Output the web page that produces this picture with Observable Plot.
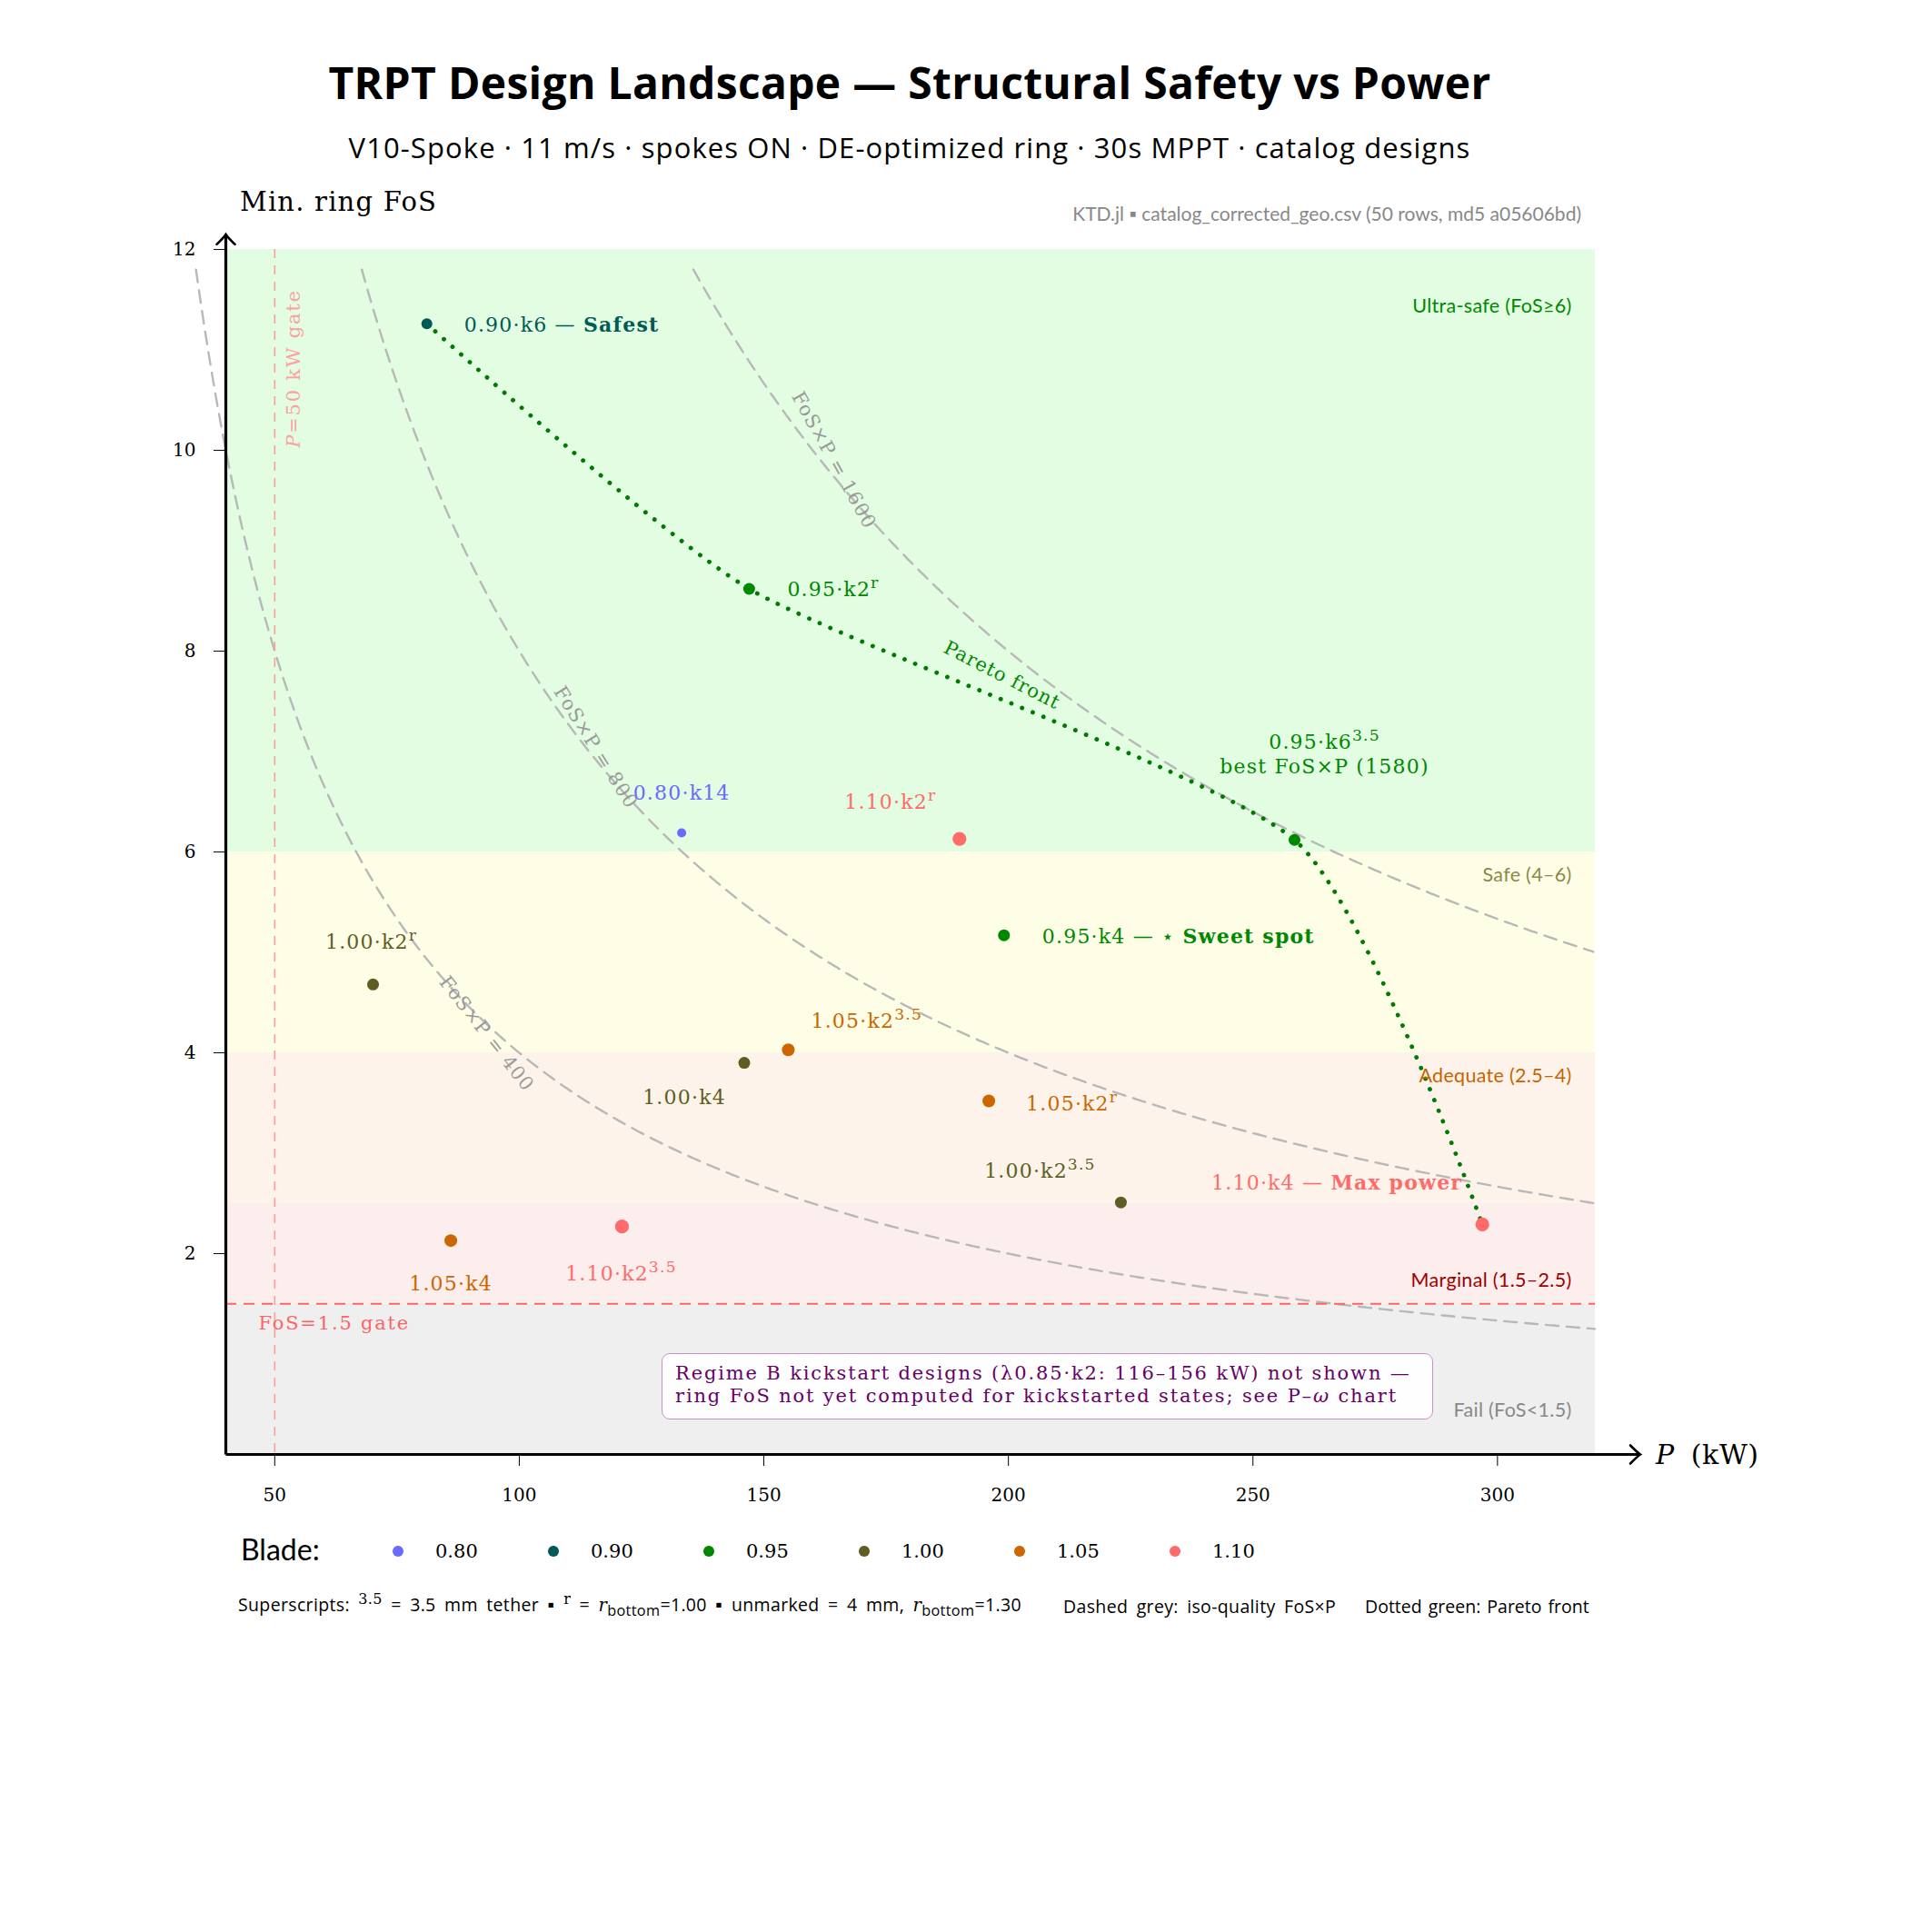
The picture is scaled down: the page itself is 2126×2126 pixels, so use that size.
<!DOCTYPE html>
<html><head><meta charset="utf-8">
<script src="https://cdn.jsdelivr.net/npm/d3@7"></script>
<script src="https://cdn.jsdelivr.net/npm/@observablehq/plot@0.6"></script>
<style>
html,body{margin:0;padding:0;background:#fff;}
#wrap{position:relative;width:2126px;height:2126px;overflow:hidden;background:#fff;}
#wrap svg{position:absolute;left:0;top:0;}
.t{position:absolute;white-space:nowrap;line-height:1;}
.sans{font-family:"Open Sans",Lato,sans-serif;}
.serif{font-family:"DejaVu Serif",serif;}
</style></head><body><div id="wrap"></div>
<script>
// ---------------- data ----------------
const blades = [0.80, 0.90, 0.95, 1.00, 1.05, 1.10];
const bladeLabels = ["0.80", "0.90", "0.95", "1.00", "1.05", "1.10"];
const bladeColors = ["#6a6aff", "#005a55", "#008800", "#5e5e24", "#cc6600", "#ff6b6b"];
const bladeRadius = [5, 6, 6.5, 6.5, 7, 7.6];

const designIds = ["0.90-k6", "0.95-k2r", "0.95-k6-3.5", "1.10-k4", "0.80-k14", "1.10-k2r", "0.95-k4", "1.00-k2r", "1.00-k4", "1.05-k2-3.5", "1.05-k2r", "1.00-k2-3.5", "1.05-k4", "1.10-k2-3.5"];
const designLabels = ["0.90·k6 — **Safest**", "0.95·k2^{r}", "0.95·k6^{3.5}\nbest FoS×P (1580)", "1.10·k4 — **Max power**", "0.80·k14", "1.10·k2^{r}", "0.95·k4 — ⋆ **Sweet spot**", "1.00·k2^{r}", "1.00·k4", "1.05·k2^{3.5}", "1.05·k2^{r}", "1.00·k2^{3.5}", "1.05·k4", "1.10·k2^{3.5}"];
const designBlade = [0.90, 0.95, 0.95, 1.10, 0.80, 1.10, 0.95, 1.00, 1.00, 1.05, 1.05, 1.00, 1.05, 1.10];
const designPower = [81.1, 147.0, 258.5, 296.9, 133.2, 190.0, 199.1, 70.1, 146.0, 155.0, 196.0, 223.0, 86.0, 121.0];
const designFoS = [11.26, 8.62, 6.12, 2.29, 6.19, 6.13, 5.17, 4.68, 3.90, 4.03, 3.52, 2.51, 2.13, 2.27];
const paretoIds = ["0.90-k6", "0.95-k2r", "0.95-k6-3.5", "1.10-k4"];

const bandNames = ["Ultra-safe (FoS≥6)", "Safe (4–6)", "Adequate (2.5–4)", "Marginal (1.5–2.5)", "Fail (FoS<1.5)"];
const bandLow = [6, 4, 2.5, 1.5, 0];
const bandHigh = [12, 6, 4, 2.5, 1.5];

const isoLevels = [400, 800, 1600];
const xTicks = [50, 100, 150, 200, 250, 300];
const yTicks = [2, 4, 6, 8, 10, 12];
const powerGate = 50;
const fosGate = 1.5;

// ---------------- styles / layout ----------------
const bandFill = ["#e2fde2", "#fefee6", "#fdf3ea", "#fdeeee", "#efefef"];
const bandInk = ["#008800", "#8a8a4a", "#c86400", "#a00000", "#888888"];
const bandLabelFoS = [11.43, 5.77, 3.77, 1.735, 0.44];
const isoLabelAt = [{P: 93.3, F: 4.19, rot: 52}, {P: 115.6, F: 7.04, rot: 58}, {P: 164.3, F: 9.9, rot: 61}];
const paretoLabelAt = {P: 198.7, F: 7.76, rot: 27};
const labelPlace = {
  "0.90-k6": {a: "start", dx: 41, dy: 0},
  "0.95-k2r": {a: "start", dx: 42, dy: 0},
  "0.95-k6-3.5": {a: "middle", dx: 33, dy: -95},
  "1.10-k4": {a: "end", dx: -22, dy: -47},
  "0.80-k14": {a: "middle", dx: 0, dy: -45},
  "1.10-k2r": {a: "middle", dx: -76, dy: -42},
  "0.95-k4": {a: "start", dx: 42, dy: 0},
  "1.00-k2r": {a: "middle", dx: -2, dy: -48},
  "1.00-k4": {a: "middle", dx: -66, dy: 37},
  "1.05-k2-3.5": {a: "start", dx: 25, dy: -33},
  "1.05-k2r": {a: "start", dx: 41, dy: 2},
  "1.00-k2-3.5": {a: "middle", dx: -89, dy: -36},
  "1.05-k4": {a: "middle", dx: 0, dy: 46},
  "1.10-k2-3.5": {a: "middle", dx: -1, dy: 51}
};

const X0 = 40, X1 = 320, Y0 = 0, Y1 = 12;
const colorOf = b => bladeColors[blades.indexOf(b)];

const designs = designIds.map((id, i) => ({id, label: designLabels[i], blade: designBlade[i], P: designPower[i], F: designFoS[i]}));
const pareto = paretoIds.map(id => designs.find(d => d.id === id)).sort((a, b) => a.P - b.P);
const bands = bandNames.map((n, i) => ({name: n, lo: bandLow[i], hi: bandHigh[i], fill: bandFill[i], ink: bandInk[i], ly: bandLabelFoS[i]}));
const isoPts = isoLevels.flatMap(k => d3.range(k / 11.8, X1 + 1e-9, 0.5).map(P => ({k, P, F: k / P})));
const isoLabels = isoLevels.map((k, i) => ({t: "FoS×P = " + k, ...isoLabelAt[i]}));

const marks = [
  Plot.rect(bands, {x1: () => X0, x2: () => X1, y1: "lo", y2: "hi", fill: "fill"}),
  Plot.line(isoPts, {x: "P", y: "F", z: "k", stroke: "#b8b8b8", strokeWidth: 2.4, strokeDasharray: "14,9"}),
  Plot.ruleX([powerGate], {x: d => d, stroke: "#ff9d9d", strokeWidth: 1.6, strokeDasharray: "10,8"}),
  Plot.ruleY([fosGate], {y: d => d, stroke: "#ff6464", strokeWidth: 2, strokeDasharray: "12,8"}),
  Plot.line(pareto, {x: "P", y: "F", curve: "cardinal", tension: 0.4, stroke: "#007a00", strokeWidth: 4.8, strokeDasharray: "0.1,12.6", strokeLinecap: "round"}),
  ...blades.map((b, i) => Plot.dot(designs.filter(d => d.blade === b), {x: "P", y: "F", r: bladeRadius[i], fill: bladeColors[i], stroke: "none"})),
  Plot.link([0], {x1: () => X0, y1: () => Y0, x2: () => X1 + 9.2, y2: () => Y0, stroke: "#000", strokeWidth: 3.2}),
  Plot.link([0], {x1: () => X0, y1: () => Y0, x2: () => X0, y2: () => Y1 + 0.15, stroke: "#000", strokeWidth: 3.2}),
  Plot.text(bands, {x: () => X1, y: "ly", text: "name", fill: "ink", textAnchor: "end", dx: -26, fontFamily: "Lato, sans-serif", fontSize: 21.5, ariaDescription: "band"}),
  Plot.text(isoLabels, {x: "P", y: "F", text: "t", rotate: "rot", fill: "#9a9a9a", fontSize: 21}),
  Plot.text([paretoLabelAt], {x: "P", y: "F", text: () => "Pareto front", rotate: paretoLabelAt.rot, fill: "#008800", fontSize: 21}),
  Plot.text([powerGate], {x: d => d, y: () => Y1, text: () => "*P*=50 kW gate", rotate: -90, dx: 21, dy: 131, fill: "#ffa0a0", fontSize: 21, ariaDescription: "gate"}),
  Plot.text([fosGate], {x: () => X0, y: d => d, text: () => "FoS=1.5 gate", textAnchor: "start", dx: 36, dy: 22, fill: "#ff6464", fontSize: 21, ariaDescription: "gate"}),
  ...designs.map(d => {
    const p = labelPlace[d.id];
    return Plot.text([d], {x: "P", y: "F", text: "label", fill: colorOf(d.blade), textAnchor: p.a, dx: p.dx, dy: p.dy, fontSize: 22, lineHeight: 1.2, ariaDescription: "design"});
  })
];

const chart = Plot.plot({
  width: 2126, height: 1700,
  marginLeft: 248, marginRight: 371, marginTop: 274, marginBottom: 100,
  x: {domain: [X0, X1], ticks: xTicks, tickSize: 13, tickPadding: 24, tickFormat: d => String(d), label: null},
  y: {domain: [Y0, Y1], ticks: yTicks, tickSize: 13, tickPadding: 20, tickFormat: d => String(d), label: null},
  color: {type: "identity"},
  style: {fontFamily: "'DejaVu Serif', serif", fontSize: "20px", color: "#000", background: "transparent", overflow: "visible"},
  marks
});

const wrap = document.getElementById("wrap");
wrap.appendChild(chart);

// rich text (bold / italic / superscript) in svg labels
const NS = "http://www.w3.org/2000/svg";
function richSvg(el) {
  const s = el.textContent;
  if (!/\*|\^\{/.test(s)) return;
  while (el.firstChild) el.removeChild(el.firstChild);
  const re = /\*\*(.+?)\*\*|\*(.+?)\*|\^\{(.+?)\}/g;
  let last = 0, m;
  const add = (t, attrs = {}) => {
    const ts = document.createElementNS(NS, "tspan");
    for (const k in attrs) ts.setAttribute(k, attrs[k]);
    ts.textContent = t; el.appendChild(ts);
  };
  while ((m = re.exec(s))) {
    if (m.index > last) add(s.slice(last, m.index));
    if (m[1] !== undefined) add(m[1], {"font-weight": "bold"});
    else if (m[2] !== undefined) add(m[2], {"font-style": "italic"});
    else add(m[3], {"font-size": "78%", "baseline-shift": "9px"});
    last = re.lastIndex;
  }
  if (last < s.length) add(s.slice(last));
}
chart.querySelectorAll("text").forEach(t => {
  const g = t.closest("g[aria-description]");
  const kind = g ? g.getAttribute("aria-description") : null;
  const isTick = !!t.closest('g[aria-label$="tick label"]');
  const ls = isTick ? 0 : kind === "band" ? 0.3 : kind === "gate" ? 1.8 : kind === "design" ? 1.2 : 1;
  t.setAttribute("letter-spacing", ls);
  const spans = t.querySelectorAll("tspan");
  if (spans.length) spans.forEach(richSvg); else richSvg(t);
});

// arrow heads on axis lines
const defs = document.createElementNS(NS, "defs");
defs.innerHTML = '<marker id="axarrow" viewBox="-14 -14 28 28" markerWidth="28" markerHeight="28" markerUnits="userSpaceOnUse" orient="auto"><path d="M-11,-10 Q-3,-2 0,0 Q-3,2 -11,10" fill="none" stroke="#000" stroke-width="2.6" stroke-linecap="round"/></marker>';
chart.insertBefore(defs, chart.firstChild);
chart.querySelectorAll('g[aria-label="link"] path, g[aria-label="link"] line').forEach(p => p.setAttribute("marker-end", "url(#axarrow)"));

// ---------------- html text ----------------
function place(html, x, y, anchor, cls, style = {}) {
  const d = document.createElement("div");
  d.className = "t " + cls;
  d.innerHTML = html;
  d.style.left = x + "px"; d.style.top = y + "px";
  const tx = anchor === "middle" ? "-50%" : anchor === "end" ? "-100%" : "0";
  d.style.transform = `translate(${tx},-50%)`;
  Object.assign(d.style, style);
  wrap.appendChild(d);
  return d;
}
place("TRPT Design Landscape — Structural Safety vs Power", 1001, 91, "middle", "sans", {fontSize: "48px", fontWeight: "700", color: "#000", letterSpacing: "0.3px"});
place("V10-Spoke · 11 m/s · spokes ON · DE-optimized ring · 30s MPPT · catalog designs", 1001, 162, "middle", "sans", {fontSize: "31px", color: "#000", letterSpacing: "1.1px"});
place("Min. ring FoS", 264, 222, "start", "serif", {fontSize: "29px", color: "#000", letterSpacing: "1.2px"});
place("KTD.jl ▪ catalog_corrected_geo.csv (50 rows, md5 a05606bd)", 1740, 234, "end", "sans", {fontFamily: "Lato, sans-serif", fontSize: "21px", color: "#888"});
place('<i>P</i><span style="margin-left:18px">(kW)</span>', 1822, 1601, "start", "serif", {fontSize: "30px", color: "#000", letterSpacing: "0.6px"});

// legend
place("Blade:", 265, 1705, "start", "sans", {fontFamily: "Lato, sans-serif", fontSize: "32px", color: "#000"});
blades.forEach((b, i) => {
  const cx = 438 + i * 171;
  const r = 5.8;
  const dot = document.createElement("div");
  Object.assign(dot.style, {position: "absolute", left: (cx - r) + "px", top: (1707 - r) + "px", width: 2 * r + "px", height: 2 * r + "px", borderRadius: "50%", background: bladeColors[i]});
  wrap.appendChild(dot);
  place(bladeLabels[i], cx + 41, 1707, "start", "serif", {fontSize: "21px", color: "#000"});
});

// caption
const sup = t => `<span class="serif" style="position:relative;top:-8px;font-size:16px">${t}</span>`;
const capStyle = {fontSize: "19.5px", color: "#000", wordSpacing: "4px", letterSpacing: "0.35px"};
place(`Superscripts: ${sup("3.5")} = 3.5 mm tether ▪ ${sup("r")} = <i class="serif">r</i><sub>bottom</sub>=1.00 ▪ unmarked = 4 mm, <i class="serif">r</i><sub>bottom</sub>=1.30`, 262, 1768, "start", "sans", capStyle);
place("Dashed grey: iso-quality FoS×P", 1170, 1768, "start", "sans", capStyle);
place("Dotted green: Pareto front", 1502, 1768, "start", "sans", {fontSize: "19.5px", color: "#000", wordSpacing: "2px"});

// annotation box
const box = document.createElement("div");
Object.assign(box.style, {position: "absolute", left: "728px", top: "1489px", width: "849px", height: "73px", boxSizing: "border-box", border: "1.6px solid #c98fc9", borderRadius: "9px", background: "rgba(255,255,255,0.93)", padding: "9px 0 0 14px", fontFamily: "'DejaVu Serif', serif", fontSize: "21px", letterSpacing: "1.85px", lineHeight: "25px", color: "#660066", whiteSpace: "nowrap"});
box.innerHTML = "Regime B kickstart designs (λ0.85·k2: 116–156 kW) not shown —<br>ring FoS not yet computed for kickstarted states; see P–<i>ω</i> chart";
wrap.appendChild(box);
</script></body></html>
